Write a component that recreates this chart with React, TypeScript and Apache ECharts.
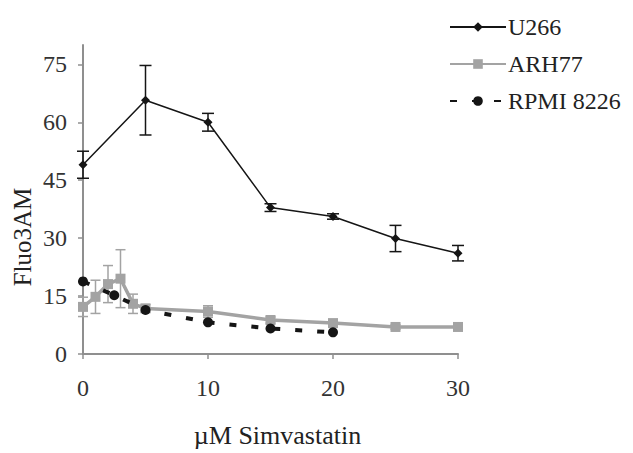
import React, { useEffect, useRef } from "react";
import * as echarts from "echarts";

const u266X = [0, 5, 10, 15, 20, 25, 30];
const u266Y = [49, 65.7, 60, 37.9, 35.6, 29.9, 26.1];
const u266Err = [3.5, 9, 2.3, 1, 0.7, 3.4, 2];

const arhX = [0, 1, 2, 3, 4, 5, 10, 15, 20, 25, 30];
const arhY = [12.2, 14.8, 18.1, 19.5, 13, 11.8, 11, 8.8, 8, 7, 7];
const arhErr = [2.5, 4.3, 4.8, 7.5, 2.5, 1, 1.5, 0.8, 0.8, 0.6, 0.6];

const rpmiX = [0, 2.5, 5, 10, 15, 20];
const rpmiY = [18.8, 15.2, 11.4, 8.2, 6.6, 5.6];

const yTicks = [0, 15, 30, 45, 60, 75];
const xTicks = [0, 10, 20, 30];
const seriesNames = ["U266", "ARH77", "RPMI 8226"];

const FONT = "'Liberation Serif', 'Times New Roman', serif";
const AXIS = "#8f8f8f";
const DARK = "#151515";
const GRAY = "#a3a3a3";
const TEXT = "#222222";

function errData(xs: number[], ys: number[], es: number[]) {
  return xs.map((x, i) => [x, ys[i] - es[i], ys[i] + es[i]]);
}

function errSeries(data: number[][], color: string, half: number, width: number) {
  return {
    type: "custom",
    silent: true,
    data,
    encode: { x: 0, y: [1, 2] },
    z: 3,
    renderItem: (params: any, api: any) => {
      const x = api.value(0);
      const top = api.coord([x, api.value(2)]);
      const bot = api.coord([x, api.value(1)]);
      const style = { stroke: color, lineWidth: width };
      return {
        type: "group",
        children: [
          { type: "line", shape: { x1: top[0], y1: top[1], x2: bot[0], y2: bot[1] }, style },
          { type: "line", shape: { x1: top[0] - half, y1: top[1], x2: top[0] + half, y2: top[1] }, style },
          { type: "line", shape: { x1: bot[0] - half, y1: bot[1], x2: bot[0] + half, y2: bot[1] }, style },
        ],
      };
    },
  };
}

export default function App() {
  const ref = useRef<HTMLDivElement>(null);
  useEffect(() => {
    document.body.style.margin = "0";
    const chart = echarts.init(ref.current!, null, { renderer: "svg" });
    chart.setOption({
      animation: false,
      backgroundColor: "#ffffff",
      textStyle: { fontFamily: FONT },
      grid: { left: 83, right: 175, top: 45, bottom: 95 },
      legend: {
        data: seriesNames,
        orient: "vertical",
        left: 444,
        top: 10,
        itemWidth: 56,
        itemHeight: 12,
        itemGap: 13,
        textStyle: { fontFamily: FONT, fontSize: 24, color: TEXT, padding: [0, 0, 0, -3] },
      },
      xAxis: {
        type: "value",
        min: 0,
        max: 30,
        interval: 10,
        name: "µM Simvastatin",
        nameLocation: "middle",
        nameGap: 68,
        nameTextStyle: { fontFamily: FONT, fontSize: 26, color: TEXT, padding: [0, 0, 0, 14] },
        axisLine: { show: true, lineStyle: { color: AXIS, width: 2 } },
        axisTick: { show: true, length: 5, lineStyle: { color: AXIS, width: 1.5 }, customValues: xTicks },
        axisLabel: { fontFamily: FONT, fontSize: 24, color: "#333", margin: 22, customValues: xTicks },
        splitLine: { show: false },
      },
      yAxis: {
        type: "value",
        min: 0,
        max: 80,
        interval: 15,
        axisLine: { show: true, lineStyle: { color: AXIS, width: 2 } },
        axisTick: { show: true, length: 5, lineStyle: { color: AXIS, width: 1.5 }, customValues: yTicks },
        axisLabel: { fontFamily: FONT, fontSize: 24, color: "#333", margin: 16, customValues: yTicks },
        splitLine: { show: false },
      },
      graphic: [
        {
          type: "text",
          x: 22,
          y: 237,
          rotation: Math.PI / 2,
          style: {
            text: "Fluo3AM",
            font: "25px 'Liberation Serif', serif",
            fill: TEXT,
            align: "center",
            verticalAlign: "middle",
          },
        },
      ],
      series: [
        errSeries(errData(arhX, arhY, arhErr), GRAY, 5, 1.5),
        errSeries(errData(u266X, u266Y, u266Err), DARK, 6, 1.5),
        {
          name: "ARH77",
          type: "line",
          data: arhX.map((x, i) => [x, arhY[i]]),
          symbol: "rect",
          symbolSize: 10,
          itemStyle: { color: GRAY },
          lineStyle: { color: GRAY, width: 3.5 },
          z: 4,
        },
        {
          name: "RPMI 8226",
          type: "line",
          data: rpmiX.map((x, i) => [x, rpmiY[i]]),
          symbol: "circle",
          symbolSize: 10,
          itemStyle: { color: DARK },
          lineStyle: { color: DARK, width: 4, type: [7, 15] },
          z: 5,
        },
        {
          name: "U266",
          type: "line",
          data: u266X.map((x, i) => [x, u266Y[i]]),
          symbol: "diamond",
          symbolSize: 9,
          itemStyle: { color: DARK },
          lineStyle: { color: DARK, width: 1.5 },
          z: 6,
        },
      ],
    });
    return () => chart.dispose();
  }, []);
  return <div ref={ref} style={{ width: 633, height: 453 }} />;
}
